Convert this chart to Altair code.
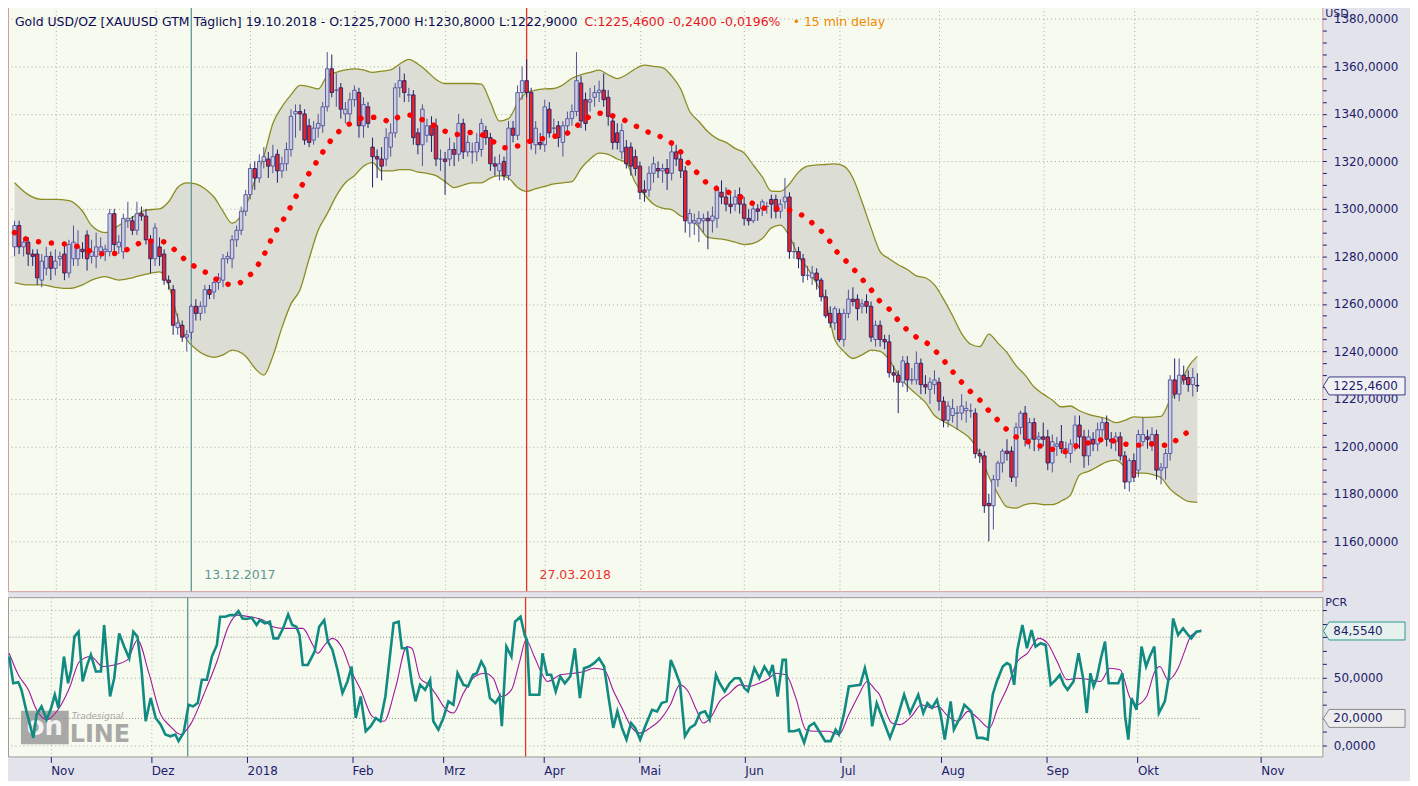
import altair as alt
import pandas as pd

# ---------------- data ----------------
FIRST_BAR = -9          # bar index of 19.10.2017; index 0 = 01.11.2017 (trading-day axis)

opens = [1284,1293,1284,1286,1281,1281,1270,1275,1280,
 1275,1279,1281,1273,1279,1279,1283,1289,1280,1280,
 1282,1282,1282,1298,1284,1282,1295,1295,1291,1298,
 1297,1287,1279,1284,1281,1270,1266,1250,1251,1246,
 1248,1259,1256,1259,1266,1265,1269,1270,1279,1279,
 1287,1291,1299,1306,1317,1313,1320,1321,1318,1323,
 1316,1319,1325,1340,1341,1340,1335,1329,1334,1335,
 1343,1359,1350,1351,1340,1340,1346,1349,1335,1343,
 1326,1322,1321,1321,1326,1332,1351,1354,1348,1348,
 1332,1327,1331,1335,1335,1321,1321,1321,1325,1323,
 1336,1324,1324,1324,1325,1333,1330,1319,1316,1320,
 1314,1334,1331,1349,1354,1349,1327,1328,1327,1342,
 1334,1335,1328,1335,1338,1341,1353,1346,1345,1347,
 1349,1350,1347,1337,1332,1324,1326,1326,1322,1318,
 1308,1308,1315,1317,1316,1317,1315,1324,1321,1316,
 1294,1294,1294,1295,1296,1295,1296,1307,1305,1302,
 1302,1306,1302,1296,1295,1300,1300,1301,1304,1304,
 1299,1303,1305,1282,1282,1279,1272,1271,1273,1270,
 1263,1256,1252,1256,1245,1256,1262,1262,1259,1261,
 1259,1245,1251,1245,1244,1231,1230,1227,1235,1228,
 1228,1235,1226,1224,1226,1227,1219,1211,1213,1214,
 1214,1215,1215,1214,1197,1196,1176,1175,1186,1193,
 1198,1198,1187,1208,1214,1203,1210,1203,1204,1204,
 1193,1200,1202,1199,1197,1201,1209,1204,1196,1203,
 1201,1207,1210,1203,1202,1204,1196,1185,1194,1190,
 1202,1204,1202,1205,1190,1191,1197,1228,1222,1230,
 1229,1226,1225.7]

highs = [1295,1295,1288,1288,1283,1283,1281,1284,1282,
 1283,1282,1285,1287,1293,1291,1286,1291,1287,1290,
 1288,1285,1300,1300,1289,1298,1303,1297,1303,1301,
 1300,1289,1294,1288,1283,1272,1268,1256,1253,1249,
 1260,1262,1261,1268,1268,1271,1273,1281,1282,1289,
 1293,1301,1308,1319,1320,1323,1326,1324,1327,1325,
 1322,1328,1342,1344,1344,1342,1338,1337,1340,1345,
 1366,1365,1357,1353,1345,1349,1352,1351,1347,1345,
 1330,1325,1326,1334,1336,1353,1360,1357,1351,1350,
 1334,1344,1338,1339,1338,1325,1324,1330,1328,1340,
 1338,1331,1328,1332,1338,1335,1332,1322,1323,1322,
 1337,1337,1352,1360,1363,1351,1337,1332,1346,1345,
 1338,1337,1337,1341,1344,1366,1356,1349,1351,1352,
 1354,1357,1350,1340,1336,1336,1329,1328,1325,1320,
 1312,1318,1322,1320,1319,1321,1328,1327,1323,1318,
 1300,1298,1299,1298,1299,1301,1310,1312,1309,1306,
 1308,1309,1305,1300,1303,1302,1304,1303,1306,1306,
 1304,1313,1307,1286,1284,1281,1276,1276,1275,1271,
 1266,1259,1259,1258,1258,1266,1267,1264,1262,1264,
 1261,1253,1253,1247,1247,1234,1232,1238,1238,1233,
 1240,1237,1230,1229,1232,1229,1221,1219,1220,1217,
 1222,1219,1218,1216,1199,1198,1180,1188,1194,1199,
 1203,1200,1210,1215,1217,1212,1212,1206,1210,1207,
 1205,1204,1209,1202,1203,1213,1213,1207,1207,1206,
 1210,1212,1213,1206,1206,1206,1198,1195,1197,1207,
 1212,1207,1208,1207,1193,1199,1230,1237,1237,1234,
 1232,1233,1230.8]

lows = [1280,1281,1280,1276,1276,1268,1267,1272,1270,
 1272,1276,1270,1271,1276,1276,1279,1274,1277,1275,
 1279,1278,1280,1281,1281,1279,1292,1289,1289,1295,
 1285,1273,1276,1276,1268,1266,1247,1247,1244,1240,
 1245,1253,1253,1256,1262,1262,1266,1267,1277,1275,
 1284,1289,1297,1304,1308,1311,1317,1313,1315,1311,
 1313,1316,1322,1330,1333,1327,1326,1327,1330,1332,
 1341,1347,1343,1338,1336,1337,1343,1330,1330,1334,
 1309,1313,1312,1318,1322,1330,1347,1345,1345,1327,
 1323,1318,1328,1324,1318,1316,1306,1318,1318,1320,
 1321,1322,1319,1320,1322,1327,1316,1314,1312,1312,
 1312,1328,1329,1346,1347,1325,1323,1325,1324,1330,
 1331,1326,1322,1332,1335,1339,1334,1333,1341,1343,
 1345,1343,1335,1325,1325,1321,1317,1314,1314,1304,
 1303,1305,1311,1313,1311,1308,1312,1318,1313,1290,
 1288,1289,1286,1290,1283,1290,1292,1302,1299,1298,
 1299,1298,1293,1293,1294,1295,1297,1298,1296,1296,
 1296,1300,1279,1279,1275,1269,1270,1268,1266,1261,
 1254,1250,1249,1244,1242,1254,1259,1253,1256,1256,
 1244,1242,1242,1241,1229,1227,1214,1225,1223,1226,
 1226,1222,1222,1218,1222,1215,1208,1208,1210,1207,
 1211,1210,1212,1195,1193,1172,1160,1165,1183,1189,
 1194,1185,1183,1205,1200,1199,1198,1198,1200,1190,
 1189,1196,1197,1195,1193,1198,1199,1191,1192,1198,
 1198,1204,1200,1199,1198,1194,1182,1181,1185,1187,
 1200,1199,1198,1186,1184,1186,1194,1220,1219,1226,
 1223,1221,1222.9]

closes = [1293,1284,1286,1281,1280,1271,1278,1280,1275,
 1278,1280,1273,1285,1286,1284,1282,1279,1282,1284,
 1284,1283,1298,1285,1286,1296,1296,1291,1298,1297,
 1287,1279,1292,1280,1270,1269,1251,1252,1246,1247,
 1259,1256,1259,1266,1264,1269,1271,1279,1280,1287,
 1291,1299,1306,1317,1313,1320,1322,1318,1322,1316,
 1319,1325,1339,1341,1340,1329,1328,1334,1336,1343,
 1359,1349,1350,1342,1342,1346,1350,1335,1344,1336,
 1322,1321,1318,1330,1332,1351,1354,1349,1348,1330,
 1327,1342,1335,1331,1321,1321,1320,1325,1323,1336,
 1324,1328,1324,1328,1336,1330,1319,1318,1319,1314,
 1334,1331,1349,1354,1349,1328,1334,1327,1343,1332,
 1334,1330,1335,1338,1341,1354,1337,1336,1346,1349,
 1350,1346,1339,1328,1328,1333,1319,1318,1317,1307,
 1307,1315,1319,1316,1317,1315,1324,1321,1316,1295,
 1298,1295,1296,1296,1295,1297,1308,1305,1302,1301,
 1305,1302,1296,1295,1300,1299,1303,1301,1302,1299,
 1302,1305,1282,1282,1279,1272,1272,1273,1270,1263,
 1255,1252,1258,1245,1256,1262,1261,1258,1260,1259,
 1246,1251,1245,1244,1231,1230,1227,1236,1228,1228,
 1235,1226,1225,1227,1228,1219,1211,1217,1216,1214,
 1217,1216,1215,1197,1196,1175,1175,1186,1193,1198,
 1197,1187,1208,1214,1203,1210,1203,1204,1203,1193,
 1202,1201,1199,1199,1201,1209,1204,1196,1204,1201,
 1207,1210,1203,1202,1204,1196,1185,1194,1187,1205,
 1205,1203,1205,1190,1191,1197,1228,1222,1230,1228,
 1226,1229,1225.46]

# Bollinger band samples: (bar index, upper, lower, middle)
band_points = [
 (-9,1311,1269,1290),(-6,1306,1268,1287),(-3,1304,1268,1286),(0,1304,1267,1285.5),
 (3,1303.5,1266.5,1285),(6,1299,1268,1283.5),(8,1293,1270,1282),(11,1290,1271.5,1281),
 (14,1293,1270,1281.5),(17,1296.5,1271,1284),(20,1299.5,1272.5,1286.5),(23,1300,1273.5,1286.5),
 (25,1303,1268,1285),(27,1309,1254,1281.5),(29,1311,1245,1278),(31,1310.5,1241,1275.5),
 (33,1308.5,1238.5,1273.5),(35,1305,1237.5,1271),(37,1299,1238.5,1269),(39,1294,1240.5,1268),
 (42,1301,1238,1270.5),(44,1312,1233,1274.5),(46,1322,1230,1280.5),(48,1336,1238,1288.5),
 (50,1343,1250,1294.5),(52,1348,1260,1301.2),(54,1352,1266,1308.5),(56,1351.5,1279,1315),
 (58,1350.5,1291,1320.8),(60,1356,1298,1326.8),(62,1357.5,1305.5,1331.5),(64,1358.5,1311,1334.8),
 (66,1359,1314,1336.7),(68,1358.5,1318,1338.4),(70,1357.5,1319.5,1338.6),(72,1358,1316,1338),
 (74,1358.5,1316,1336.6),(76,1361,1316.5,1339),(78,1363,1316.5,1339.5),(80,1361,1315.5,1338.5),
 (82,1358,1315,1336.5),(84,1354.5,1314,1334.8),(86,1352.8,1311.5,1332.7),(88,1352.8,1309,1331.2),
 (90,1352.8,1310,1331.9),(92,1352.8,1311,1332.2),(94,1352.5,1311,1331.3),(96,1345,1313,1329.3),
 (98,1337,1314,1326.4),(100,1338,1313,1325.6),(102,1344.5,1309,1326.5),(104,1349,1307.4,1328.1),
 (106,1350,1308.5,1329),(108,1350.5,1309.5,1329.8),(110,1350.7,1310.5,1330.5),(112,1352.2,1311,1331.2),
 (114,1355,1311.5,1333),(116,1356.5,1317,1336.5),(118,1357.5,1321,1339),(120,1358.4,1323.5,1340.3),
 (122,1356.5,1323,1339.7),(124,1354.9,1321,1338.5),(126,1356.5,1319.3,1337),(128,1359,1311,1335),
 (130,1360.5,1306,1333),(132,1360,1302,1331.5),(134,1359.5,1300.3,1330),(136,1356,1299.7,1327.7),
 (138,1350.5,1297,1324),(140,1341,1295.8,1318.5),(142,1336.8,1292.5,1314.5),(144,1332.5,1288,1310.5),
 (146,1329.6,1287.5,1308.5),(148,1328,1287,1307.3),(150,1325.5,1286,1306),(152,1323.5,1285,1304.3),
 (154,1318.5,1285.5,1302.2),(156,1313.5,1287.5,1300.6),(158,1307.5,1292,1299.7),(160,1307.4,1293.2,1300.2),
 (162,1310.5,1288.5,1299.5),(164,1315.5,1280,1298),(166,1318,1275,1296),(168,1318.5,1268.5,1292),
 (170,1318.7,1261,1289),(172,1319,1245,1283),(174,1318,1240,1279),(176,1313,1237,1275),
 (178,1303,1238.5,1270.5),(180,1292,1240.5,1266),(182,1282,1240,1261),(184,1279,1236.5,1257.8),
 (186,1276.5,1230,1253),(188,1274.5,1225.5,1249),(190,1271.8,1222,1246),(192,1271,1218.5,1244),
 (194,1268,1213,1240.6),(196,1262,1210.5,1236.3),(198,1255,1208.5,1231.5),(200,1247.5,1206.1,1227),
 (202,1243,1203,1223),(204,1242,1197,1219.5),(206,1247.3,1187.2,1215),(208,1243.5,1180,1211),
 (210,1239.5,1174.5,1207),(212,1234,1174,1204),(214,1230,1175.5,1202.7),(216,1225,1176,1200.5),
 (218,1222,1175.5,1200),(220,1219.5,1175.5,1198.8),(222,1216.6,1177,1197.8),(224,1217,1179.5,1198),
 (226,1215,1188,1201.2),(228,1213.5,1189.5,1201.5),(230,1212.5,1191.5,1202.5),(232,1211.7,1193.5,1203),
 (234,1210,1194.2,1202),(236,1211,1191.4,1201),(238,1212.4,1188.7,1200.5),(240,1212.2,1188.7,1200.6),
 (242,1212.3,1188.2,1201),(244,1212.6,1186.8,1200.5),(246,1219.5,1182,1200.5),(248,1225,1179,1204),
 (250,1233.4,1176.8,1206),(252,1237.9,1176.4,1207.5)]

# PCR oscillator (teal): (bar index, value)
pcr_points = [
 (-9.1,65.7),(-8.2,46),(-7.1,46.8),(-6.4,41.1),(-5.3,25.2),(-3.8,5.6),(-3.1,22.8),(-2,28.9),(-0.9,19.1),(0.1,27.7),
 (0.9,37.5),(1.7,27.7),(2.9,65.7),(3.8,46),(4.5,55.9),(5.2,80.4),(6.1,84),(7,47.3),(8,59.5),(8.8,66.9),
 (9.9,54.6),(11,54.6),(11.7,89),(13,36.2),(13.9,49.7),(15,82.8),(16.1,73),(17.2,64.4),(18.1,84),(19,80.4),
 (19.9,55.9),(20.8,17.9),(21.9,35),(23,20.3),(24.1,15.4),(25.1,8.1),(26.2,6.8),(27.3,8.1),(28,3.2),(29.1,9.3),
 (30.2,30.1),(31.2,28.9),(32.2,31.3),(33.1,48.5),(34.2,48.5),(35.3,65.7),(36.4,74.2),(37.1,95.1),(38.2,95.1),(39.3,96.3),
 (40.4,96.3),(41.1,99.2),(42,93.8),(42.9,93.4),(44,94.3),(45.1,89),(45.8,92.6),(46.9,90.2),(48,91.4),(48.8,79.1),
 (49.8,79.1),(50.9,86.5),(52,96.8),(52.9,89),(53.8,87.7),(54.5,81.6),(55.2,59.5),(56.3,59.5),(57.8,69.3),(58.8,87.7),
 (59.9,92.6),(60.7,76.7),(61.7,70.6),(62.8,55.9),(63.9,38.7),(65,47.3),(65.9,58.3),(66.8,20.3),(67.9,36.2),(69,10.5),
 (70.1,14.2),(71.2,20.3),(72.2,17.9),(73.3,36.2),(74.4,69.3),(75.1,90.2),(76.2,91.4),(76.9,71.8),(78,71.8),(79.1,46),
 (79.9,32.6),(80.9,44.8),(82,41.1),(83.1,48.5),(83.8,17.9),(84.9,11.7),
 (86,20.3),(87.1,32.6),(88.2,30.1),(89.1,53.4),(90.4,44.8),(91.4,43.6),(92.5,52.2),(93.3,53.4),(94.3,62),(95.1,57.1),
 (96.2,35),(97.4,31.3),(98.3,36.2),(98.8,14.2),(99.8,73),(100.9,65.7),(101.7,91.4),(102.9,95.1),(103.8,81.6),(104.3,77.9),
 (104.9,37.5),(105.8,37.5),(107,37.5),(107.7,68.1),(108.7,52.2),(109.6,52.2),(110.6,39.9),(111.6,51),(112.6,46),(113.8,51),
 (114.8,71.8),(115.9,35),(116.8,57.1),(117.9,58.3),(119,60.8),(120.1,64.4),(121.2,58.3),(122.2,35),(123.2,13),(124.1,25.2),
 (125.1,13),(126.1,4.4),(127.1,16.6),(128,13),(129.1,4.4),(130.2,14.2),(131.7,26.4),(132.8,25.2),(133.8,31.3),(134.9,32.6),
 (135.8,63.2),(136.7,55.9),(137.8,46),(138.9,6.8),(140,13),(141.1,15.4),(142.2,24),(143.3,25.2),(144.3,19.1),(145.7,52.2),
 (146.5,46),(147.6,39.9),(148.7,46),(149.8,49.7),(150.9,49.7),(151.9,42.4),(152.7,39.9),(154.1,57.1),(155.2,49.7),(156.3,58.3),
 (157.4,52.2),(158.1,59.5),(159.2,36.2),(160.3,63.2),(161,63.2),(161.7,10.5),(162.8,10.5),(163.9,11.7),(165,2),(166.1,14.2),
 (167.2,16.6),(168.3,10.5),(169.6,3.2),(170.8,3.2),(171.9,11.7),(172.6,8.1),(173.7,22.8),(174.8,43.6),(176.2,44.3),(177.3,44.8),
 (178.3,57.1),(179.1,46),(179.9,14.2),(180.9,31.3),
 (182.4,17.9),(183.8,5.6),(185.3,19.1),(186.9,37.5),(188.2,24),(190,37.5),(191.1,24),(192,31.3),(193,27.7),(194.1,33.8),
 (194.9,22.8),(195.8,4.4),(197.1,32.6),(197.8,11.7),(199.1,20.3),(200.1,30.1),(201.6,25.2),(202.9,5.6),(204.1,5.6),(205.2,4.4),
 (206.3,37.5),(207.2,47.3),(208.5,58.3),(209.4,60.8),(210.1,59.5),(211,44.8),(211.7,70.6),(212.8,88.9),(213.8,71.8),(214.8,85.3),
 (215.7,73),(216.8,75.5),(217.9,74.2),(219,44.8),(220.1,48.5),(221,52.2),(221.9,44.8),(222.7,41.1),(224,47.3),(225.1,68.1),
 (226.1,49.7),(226.9,24),(227.7,53.4),(228.4,43.6),(229.1,49.7),(230,64.4),(230.9,76.7),(231.7,46),(232.7,46),(233.8,46),
 (234.7,53.4),(235.3,21.5),(236,4.4),(236.7,35),(237.8,26.4),(238.9,73),(239.9,58.3),(240.7,65.7),(241.7,73),(242.7,24),
 (244,32.6),(244.9,50.9),(245.8,93.8),(246.9,81.6),(248,86.5),(249.1,81.6),(249.8,79.1),(250.9,84),(252,84.554)]

# smoothed PCR (purple): (bar index, value)
signal_points = [
 (-9.1,68.1),(-7.1,52.2),(-4.9,41.1),(-3.1,26.4),(-0.9,19.1),(1.6,26.4),(4.1,42.4),(6.3,62),(8.8,65.7),(11.4,58.3),
 (13.9,59.5),(16.8,63.2),(19,77.9),(21.5,53.4),(24.1,22.8),(26.2,14.2),(28.4,8.1),(30.6,15.4),(33.5,37.5),(36.4,62),
 (38.9,87.7),(40.7,96.3),(43.6,95.1),(46.5,92.6),(48.7,87.7),(50.9,86.5),(53,86.5),(55.2,86.5),(57.4,74.2),(58.5,68.1),
 (60,74.2),(61.7,79.1),(63.9,71.8),(65.7,55.9),(67.9,41.1),(70.4,21.5),(73,17.9),(75.5,42.4),(78,73),(79.1,71.8),
 (80.9,49.7),(82.8,44.8),(84.9,35),
 (86,28.9),(88.2,24),(90.4,38.7),(92.9,51),(95.1,53.4),(96.9,49.7),(98.7,36.2),(100.9,41.1),(102.7,62),(104.1,77.9),
 (105.9,65.7),(107.7,52.2),(108.8,47.3),(111.7,52.2),(114.6,53.4),(116.8,54.6),(119,57.1),(121.2,55.9),(123.3,39.9),(125.1,27.7),
 (127.3,13),(129.1,9.3),(131.3,13),(133.5,19.1),(135.7,30.1),(137.8,44.8),(139.6,39.9),(141.4,26.4),(142.9,16.6),(144.7,21.5),
 (146.5,32.6),(148.7,38.7),(150.9,44.8),(153,43.6),(155.2,46),(157.4,49.7),(158.8,53.4),(161,52.2),(163.2,35),(165.4,11.7),
 (167.5,10.5),(170.4,10.5),(172.6,8.1),(174.8,22.8),(177,37.5),(178.8,47.3),(180.6,41.1),
 (181.3,38.7),(184.2,16.6),(186,15.4),(188.5,21.5),(190.7,30.1),(192.9,27.7),(194.3,28.9),(196.5,21.5),(198.7,17.9),(200.9,25.2),
 (203,20.3),(205.6,13),(207.4,27.7),(209.6,43.6),(211.7,62),(213.9,68.1),(216.4,79.1),(218.3,75.5),(220.4,62),(222.6,48.5),
 (224.8,49.7),(227.7,48.5),(229.9,47.3),(232,57.1),(234.2,55.9),(236.4,35),(237.8,30.1),(240,36.2),(241.8,54.6),(242.9,58.3),
 (244.7,48.5),(246.9,57.1),(248.3,69.3),(249.4,79.1),(250.9,84),(252,85.3)]

month_ticks = [0, 22, 43, 66, 86, 108, 129, 152, 173, 195, 218, 238, 265]
month_names = ["Nov", "Dez", "2018", "Feb", "Mrz", "Apr", "Mai", "Jun", "Jul", "Aug", "Sep", "Okt", "Nov"]
marker_dates = [30, 104]
marker_labels = ["13.12.2017", "27.03.2018"]
pcr_levels = [20, 80]
last_close = 1225.46
last_pcr = 84.554

# ---------------- layout / style ----------------
W, H1, H2 = 1320, 587, 160
NAVY = "#1C1C6A"
FONT = "DejaVu Sans"
PLOT_BG = "#F7FAEE"
TFS = 12.5   # header font size
PAD = {"left": -5, "top": -5, "right": 2, "bottom": 2}

n = len(closes)
bars = pd.DataFrame({"i": list(range(FIRST_BAR, FIRST_BAR + n)),
                     "o": opens, "h": highs, "l": lows, "c": closes})
band = pd.DataFrame(band_points, columns=["i", "up", "lo", "mid"])
pcr = pd.DataFrame(pcr_points, columns=["i", "v"])
sig = pd.DataFrame(signal_points, columns=["i", "v"])
vl = pd.DataFrame({"i": marker_dates, "lab": marker_labels})
lv = pd.DataFrame({"y": pcr_levels, "x0": FIRST_BAR, "x1": FIRST_BAR + n - 1})

xs = alt.Scale(domain=[-9.35, 278.5], nice=False, zero=False)
ys1 = alt.Scale(domain=[1139.04, 1385.16], nice=False, zero=False)
ys2 = alt.Scale(domain=[-8.09, 109.56], nice=False, zero=False)

grid_dash = [1, 3]
names_js = "[" + ",".join("'%s'" % m for m in month_names) + "]"
ticks_js = "[" + ",".join(str(t) for t in month_ticks) + "]"

x_axis_top = alt.Axis(values=month_ticks, labels=False, ticks=False, domain=False, grid=True,
                      gridDash=grid_dash, gridColor="#A9A9A9", title=None)
x_axis_bot = alt.Axis(values=month_ticks, labelExpr=f"{names_js}[indexof({ticks_js}, datum.value)]",
                      labelAlign="left", labelPadding=3, tickSize=6, tickColor=NAVY, domain=False,
                      grid=True, gridDash=grid_dash, gridColor="#A9A9A9", title=None,
                      labelFont=FONT, labelFontSize=12, labelColor=NAVY, labelOverlap=False)
y_axis_top = alt.Axis(orient="right", values=list(range(1145, 1385, 5)),
                      labelExpr="datum.value % 20 === 0 ? replace(format(datum.value, '.4f'), '.', ',') : ''",
                      grid=True, gridDash=grid_dash, gridColor="#A9A9A9",
                      gridOpacity={"condition": {"test": "datum.value % 20 === 0", "value": 1}, "value": 0},
                      tickSize=4, tickColor=NAVY, domain=False, title=None, labelFont=FONT, labelFontSize=12,
                      labelColor=NAVY, labelOverlap=False, labelPadding=7)
y_axis_bot = alt.Axis(orient="right", values=list(range(0, 101, 10)),
                      labelExpr="datum.value % 50 === 0 && datum.value < 100 ? replace(format(datum.value, '.4f'), '.', ',') : ''",
                      grid=True, gridDash=grid_dash, gridColor="#A9A9A9",
                      gridOpacity={"condition": {"test": "datum.value % 50 === 0", "value": 1}, "value": 0},
                      tickSize=4, tickColor=NAVY, domain=False, title=None, labelFont=FONT, labelFontSize=12,
                      labelColor=NAVY, labelOverlap=False, labelPadding=7)

def X1(f):
    return alt.X(f, type="quantitative", scale=xs, axis=x_axis_top)

def Y1(f):
    return alt.Y(f, type="quantitative", scale=ys1, axis=y_axis_top)

def X2(f):
    return alt.X(f, type="quantitative", scale=xs, axis=x_axis_bot)

def Y2(f):
    return alt.Y(f, type="quantitative", scale=ys2, axis=y_axis_bot)

one = alt.Data(values=[{}])
up_cond = alt.datum.c >= alt.datum.o
vcol = alt.Color("lab:N", scale=alt.Scale(domain=marker_labels, range=["#5E9696", "#E8332B"]), legend=None)

# ---------------- upper panel ----------------
band_area = alt.Chart(band).mark_area(color="#DCDED6", interpolate="monotone").encode(
    x=X1("i"), y=Y1("up"), y2="lo")
band_up = alt.Chart(band).mark_line(color="#8C8C22", strokeWidth=1.3, interpolate="monotone").encode(
    x=X1("i"), y=Y1("up"))
band_lo = alt.Chart(band).mark_line(color="#8C8C22", strokeWidth=1.3, interpolate="monotone").encode(
    x=X1("i"), y=Y1("lo"))
vrules1 = alt.Chart(vl).mark_rule(strokeWidth=1.3).encode(x=X1("i"), color=vcol)
vtext = alt.Chart(vl).mark_text(align="left", baseline="middle", dx=13, font=FONT, fontSize=12.5).encode(
    x=X1("i"), y=alt.value(H1 - 16), text="lab:N",
    color=alt.Color("lab:N", scale=alt.Scale(domain=marker_labels, range=["#3F8C9A", "#E8141E"]), legend=None))
wicks = alt.Chart(bars).mark_rule(strokeWidth=1).encode(
    x=X1("i"), y=Y1("l"), y2="h",
    color=alt.condition(up_cond, alt.value("#50509C"), alt.value("#20206C")))
bodies = alt.Chart(bars).mark_bar(width=3.5, strokeWidth=0.9).encode(
    x=X1("i"), y=Y1("o"), y2="c",
    fill=alt.condition(up_cond, alt.value("#CDCEE0"), alt.value("#E3262B")),
    stroke=alt.condition(up_cond, alt.value("#50509C"), alt.value("#20206C")))
mid_dots = alt.Chart(band).mark_line(color="#FF0000", strokeWidth=5.5, strokeCap="round",
                                     strokeDash=[0.1, 12.9], interpolate="monotone").encode(
    x=X1("i"), y=Y1("mid"))

t_black = alt.Chart(one).mark_text(align="left", baseline="middle", font=FONT, fontSize=TFS, color="#0B0B55").encode(
    x=alt.value(7), y=alt.value(15),
    text=alt.value("Gold USD/OZ [XAUUSD GTM Täglich] 19.10.2018 - O:1225,7000 H:1230,8000 L:1222,9000"))
t_red = alt.Chart(one).mark_text(align="left", baseline="middle", font=FONT, fontSize=TFS, color="#E8141E").encode(
    x=alt.value(579), y=alt.value(15), text=alt.value("C:1225,4600 -0,2400 -0,0196%"))
t_orange = alt.Chart(one).mark_text(align="left", baseline="middle", font=FONT, fontSize=TFS, color="#F08A00").encode(
    x=alt.value(788), y=alt.value(15), text=alt.value("• 15 min delay"))

usd = alt.Chart(one).mark_text(align="left", baseline="top", font=FONT, fontSize=11, color=NAVY).encode(
    x=alt.value(W + 3), y=alt.value(1), text=alt.value("USD"))

price_box = alt.Chart(pd.DataFrame({"v": [last_close]})).mark_point(
    shape="M-1,0 L-0.86,-0.22 L1,-0.22 L1,0.22 L-0.86,0.22 Z", filled=True, fill="#F1F1F4",
    stroke="#3A3A8C", strokeWidth=1, opacity=1, size=6724).encode(x=alt.value(W + 42), y=Y1("v"))
price_txt = alt.Chart(pd.DataFrame({"v": [last_close]})).mark_text(
    align="left", baseline="middle", font=FONT, fontSize=12, color=NAVY).encode(
    x=alt.value(W + 11), y=Y1("v"), text=alt.value("1225,4600"))

upper = alt.layer(band_area, band_up, band_lo, vrules1, wicks, bodies, mid_dots, vtext,
                  t_black, t_red, t_orange, usd, price_box, price_txt).properties(
    width=W, height=H1, view=alt.ViewBackground(fill=PLOT_BG, stroke="#D49C9C", strokeWidth=1))

# ---------------- lower panel ----------------
levels = alt.Chart(lv).mark_rule(color="#8A8A8A", strokeDash=[1, 2], strokeWidth=1).encode(
    x=X2("x0"), x2="x1", y=Y2("y"))
vrules2 = alt.Chart(vl).mark_rule(strokeWidth=1.3).encode(x=X2("i"), color=vcol)
sig_line = alt.Chart(sig).mark_line(color="#A0189E", strokeWidth=1.1, interpolate="monotone").encode(
    x=X2("i"), y=Y2("v"))
pcr_line = alt.Chart(pcr).mark_line(color="#118A82", strokeWidth=2.6).encode(
    x=X2("i"), y=Y2("v"))

wm_box = alt.Chart(one).mark_point(shape="M-1,-0.7 L1,-0.7 L1,0.7 L-1,0.7 Z", filled=True,
                                   fill="#8E8E8E", opacity=0.75, size=2300).encode(
    x=alt.value(37), y=alt.value(131))
wm_on = alt.Chart(one).mark_text(align="center", baseline="middle", font=FONT, fontSize=26,
                                 fontWeight="bold", color="#F2F2F2").encode(
    x=alt.value(37), y=alt.value(130), text=alt.value("on"))
wm_line = alt.Chart(one).mark_text(align="left", baseline="middle", font=FONT, fontSize=24,
                                   fontWeight="bold", color="#8E8E8E", opacity=0.75).encode(
    x=alt.value(62), y=alt.value(138), text=alt.value("LINE"))
wm_ts = alt.Chart(one).mark_text(align="left", baseline="middle", font=FONT, fontSize=9,
                                 fontStyle="italic", color="#A8A8A8").encode(
    x=alt.value(64), y=alt.value(119), text=alt.value("Tradesignal"))

pcr_lab = alt.Chart(one).mark_text(align="left", baseline="top", font=FONT, fontSize=11, color=NAVY).encode(
    x=alt.value(W + 3), y=alt.value(0), text=alt.value("PCR"))
box_df = pd.DataFrame({"v": [last_pcr, pcr_levels[0]], "t": ["84,5540", "20,0000"], "k": ["pcr", "lvl"]})
boxes = alt.Chart(box_df).mark_point(
    shape="M-1,0 L-0.86,-0.22 L1,-0.22 L1,0.22 L-0.86,0.22 Z", filled=True, strokeWidth=1,
    opacity=1, size=6724).encode(
    x=alt.value(W + 42), y=Y2("v"),
    fill=alt.Color("k:N", scale=alt.Scale(domain=["pcr", "lvl"], range=["#E6F0EC", "#EDEDED"]), legend=None),
    stroke=alt.Stroke("k:N", scale=alt.Scale(domain=["pcr", "lvl"], range=["#2A9A90", "#8A8A8A"]), legend=None))
box_txt = alt.Chart(box_df).mark_text(align="left", baseline="middle", font=FONT, fontSize=12, color=NAVY).encode(
    x=alt.value(W + 11), y=Y2("v"), text="t:N")

lower = alt.layer(levels, vrules2, wm_box, wm_on, wm_line, wm_ts, sig_line, pcr_line,
                  pcr_lab, boxes, box_txt).properties(
    width=W, height=H2, view=alt.ViewBackground(fill=PLOT_BG, stroke="#9A9A9A", strokeWidth=1))

chart = alt.vconcat(upper, lower, spacing=2).resolve_scale(color="independent").properties(
    padding=PAD
).configure(background="#E3E3EB", padding=PAD)

chart.save("out.html", embed_options={"renderer": "svg", "actions": False})
